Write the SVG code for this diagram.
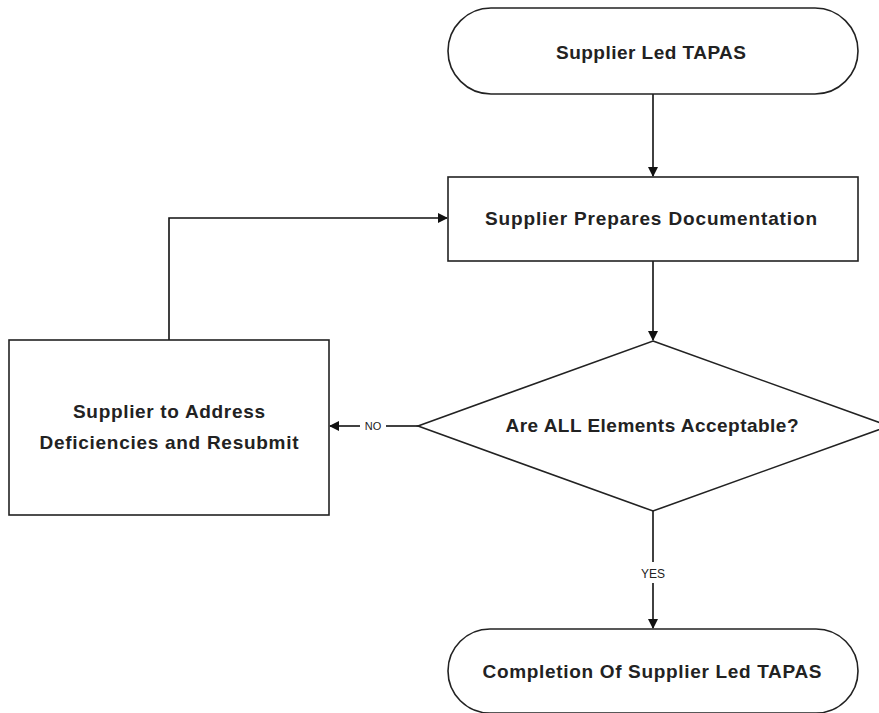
<svg xmlns="http://www.w3.org/2000/svg" width="879" height="713" viewBox="0 0 879 713">
<style>
.s{fill:#fff;stroke:#222;stroke-width:1.6}
.t{font-family:"Liberation Sans",Arial,sans-serif;font-weight:bold;font-size:19px;fill:#222;text-anchor:middle}
.c{fill:none;stroke:#111;stroke-width:1.6}
.l{font-family:"Liberation Sans",Arial,sans-serif;font-size:11px;fill:#222;text-anchor:middle}
</style>
<defs>
<marker id="a" markerWidth="10" markerHeight="10" refX="9" refY="5" orient="auto" markerUnits="userSpaceOnUse">
<path d="M0,0 L10,5 L0,10 Z" fill="#111"/>
</marker>
</defs>
<rect width="879" height="713" fill="#fff"/>
<g id="connectors">
<path class="c" d="M653,94 V176" marker-end="url(#a)"/>
<path class="c" d="M653,261 V340" marker-end="url(#a)"/>
<path class="c" d="M169,340 V218 H447" marker-end="url(#a)"/>
<path class="c" d="M418,426 H386"/>
<path class="c" d="M360,426 H330" marker-end="url(#a)"/>
<text class="l" x="373" y="430">NO</text>
<path class="c" d="M653,511 V562"/>
<path class="c" d="M653,583 V628" marker-end="url(#a)"/>
<text class="l" x="653" y="578" style="font-size:12px">YES</text>
</g>
<g id="start">
<rect class="s" x="448" y="8" width="410" height="86" rx="43"/>
<text class="t" x="651" y="59" textLength="190" lengthAdjust="spacing">Supplier Led TAPAS</text>
</g>
<g id="prepare">
<rect class="s" x="448" y="177" width="410" height="84"/>
<text class="t" x="651" y="225" textLength="332" lengthAdjust="spacing">Supplier Prepares Documentation</text>
</g>
<g id="decision">
<polygon class="s" points="653,341 889,426 653,511 418,426"/>
<text class="t" x="652" y="432" textLength="293" lengthAdjust="spacing">Are ALL Elements Acceptable?</text>
</g>
<g id="address">
<rect class="s" x="9" y="340" width="320" height="175"/>
<text class="t" x="169" y="418" textLength="192" lengthAdjust="spacing">Supplier to Address</text>
<text class="t" x="169" y="449" textLength="259" lengthAdjust="spacing">Deficiencies and Resubmit</text>
</g>
<g id="end">
<rect class="s" x="448" y="629" width="410" height="84" rx="42"/>
<text class="t" x="652" y="678" textLength="339" lengthAdjust="spacing">Completion Of Supplier Led TAPAS</text>
</g>
</svg>
